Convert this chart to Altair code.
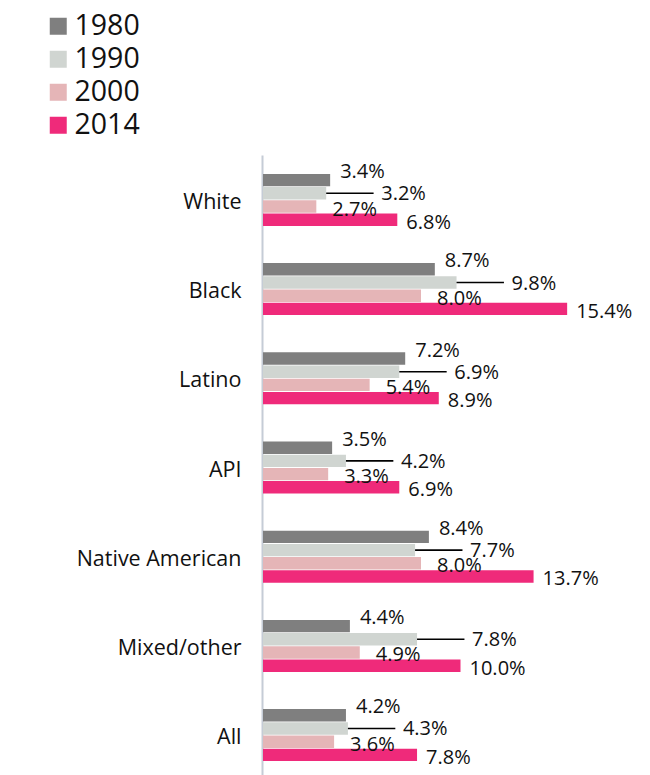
import altair as alt
import pandas as pd

categories = ["White", "Black", "Latino", "API", "Native American", "Mixed/other", "All"]
years = ["1980", "1990", "2000", "2014"]
colors = ["#7f7f7f", "#d0d5d1", "#e5b5b7", "#ef2a7a"]

v1980 = [3.4, 8.7, 7.2, 3.5, 8.4, 4.4, 4.2]
v1990 = [3.2, 9.8, 6.9, 4.2, 7.7, 7.8, 4.3]
v2000 = [2.7, 8.0, 5.4, 3.3, 8.0, 4.9, 3.6]
v2014 = [6.8, 15.4, 8.9, 6.9, 13.7, 10.0, 7.8]

series = {"1980": v1980, "1990": v1990, "2000": v2000, "2014": v2014}
rows = []
for yr in years:
    for cat, val in zip(categories, series[yr]):
        rows.append({"category": cat, "year": yr, "value": val})
df = pd.DataFrame(rows)

FONT = "Open Sans"
TXT = "#111111"

y_enc = alt.Y(
    "category:N",
    sort=categories,
    scale=alt.Scale(domain=categories, range=[0, 625], paddingInner=0.417, paddingOuter=0.212),
    axis=alt.Axis(
        title=None, ticks=False, tickSize=0, labelPadding=21, labelFontSize=21.5,
        labelFont=FONT, labelColor=TXT, labelFontWeight="normal", labelOffset=3,
        domainColor="#c5ccd6", domainWidth=2, grid=False, offset=1,
    ),
)
yoff_enc = alt.YOffset("year:N", sort=years,
                       scale=alt.Scale(domain=years, paddingInner=0.06, paddingOuter=0))
x_enc = alt.X("value:Q", scale=alt.Scale(domain=[0, 16], nice=False), axis=None)

base = alt.Chart(df)

bars = base.mark_bar().encode(
    y=y_enc,
    yOffset=yoff_enc,
    x=x_enc,
    color=alt.Color(
        "year:N",
        sort=years,
        scale=alt.Scale(domain=years, range=colors),
        legend=alt.Legend(
            title=None, orient="none", legendX=-219, legendY=-143,
            symbolType="square", symbolSize=289, symbolStrokeWidth=0,
            labelFontSize=28.5, labelFont=FONT, labelColor=TXT, labelOffset=2,
            rowPadding=4, padding=0, symbolOpacity=1,
        ),
    ),
)

offsets = {"1980": (10, -8), "1990": (55, 1), "2000": (16, 3), "2014": (9, 3)}
text_layers = []
for yr in years:
    dx, dy = offsets[yr]
    t = base.transform_filter(alt.datum.year == yr).transform_calculate(
        label="format(datum.value, '.1f') + '%'"
    ).mark_text(
        align="left", baseline="middle", dx=dx, dy=dy, fontSize=20, font=FONT, color=TXT
    ).encode(y=y_enc, yOffset=yoff_enc, x=x_enc, text="label:N")
    text_layers.append(t)

leaders = base.transform_filter(alt.datum.year == "1990").transform_calculate(
    lead_end="datum.value + 2.4"
).mark_rule(color="#000000", strokeWidth=1.6).encode(
    y=y_enc, yOffset=yoff_enc, x=x_enc, x2="lead_end:Q"
)

chart = alt.layer(bars, leaders, *text_layers).properties(
    width=316,
    height=612,
    padding={"left": 255, "top": 147, "right": 60, "bottom": 8},
    autosize=alt.AutoSizeParams(type="none"),
).configure_view(stroke=None)

chart.save("out.html", embed_options={"renderer": "svg", "actions": False})
